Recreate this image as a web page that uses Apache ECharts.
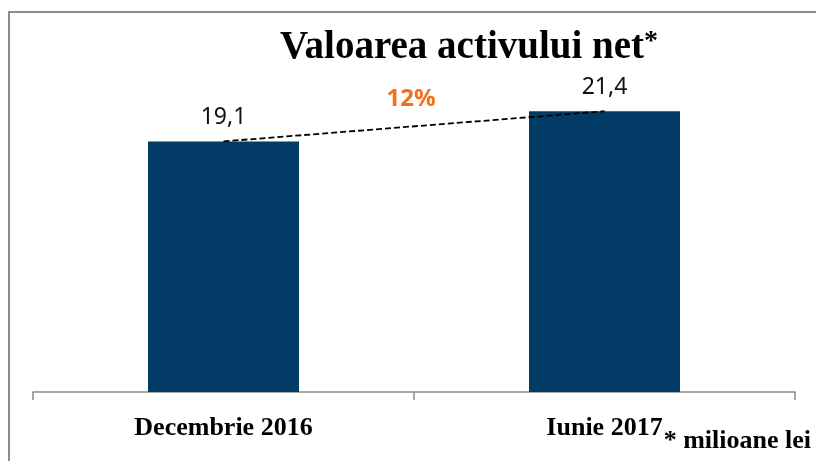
<!DOCTYPE html>
<html>
<head>
<meta charset="utf-8">
<script src="https://cdn.jsdelivr.net/npm/echarts@6/dist/echarts.min.js"></script>
<style>
  html, body { margin: 0; padding: 0; background: #fff; }
  #chart { width: 816px; height: 461px; }
</style>
</head>
<body>
<div id="chart"></div>
<script>
// data
var categories = ['Decembrie 2016', 'Iunie 2017'];
var netAssets = [19.1, 21.4];
var growthText = '12%';
var titleText = 'Valoarea activului net';
var unitNote = '* milioane lei';

var myChart = echarts.init(document.getElementById('chart'));

option = {
    animation: false,
    backgroundColor: '#ffffff',
    title: {
        text: '{a|' + titleText + '}{b|*}',
        left: 275,
        top: 23,
        textStyle: {
            rich: {
                a: { fontFamily: 'Liberation Serif', fontWeight: 'bold', fontSize: 39, color: '#000' },
                b: { fontFamily: 'Liberation Serif', fontWeight: 'bold', fontSize: 28, color: '#000', verticalAlign: 'top' }
            }
        }
    },
    grid: { left: 33, right: 21, top: 64, bottom: 69 },
    xAxis: [{
        type: 'category',
        data: categories,
        axisLine: { lineStyle: { color: '#8a8a8a', width: 1.5 } },
        axisTick: { show: true, length: 8, lineStyle: { color: '#8a8a8a', width: 1.5 } },
        axisLabel: {
            margin: 23,
            fontFamily: 'Liberation Serif',
            fontWeight: 'bold',
            fontSize: 26,
            color: '#000'
        }
    }],
    yAxis: [{ type: 'value', min: 0, max: 25, show: false }],
    series: [
        {
            name: 'activ net',
            type: 'bar',
            barWidth: 151,
            itemStyle: { color: '#023b66' },
            label: {
                show: true,
                position: 'top',
                distance: 12,
                fontFamily: 'Noto Sans',
                fontSize: 23,
                color: '#111',
                formatter: function (p) { return String(p.value).replace('.', ','); }
            },
            data: netAssets
        },
        {
            name: 'trend',
            type: 'line',
            symbol: 'none',
            z: 5,
            lineStyle: { color: '#000', width: 1.8, type: [6, 3] },
            data: netAssets
        }
    ],
    graphic: [
        {
            type: 'rect',
            shape: { x: 9, y: 12, width: 1000, height: 600 },
            style: { fill: 'none', stroke: '#8c8c8c', lineWidth: 2 },
            z: -1
        },
        {
            type: 'text',
            x: 411, y: 99,
            style: {
                text: growthText,
                fill: '#f46f16',
                font: 'bold 24px "Noto Sans"',
                textAlign: 'center',
                textVerticalAlign: 'middle'
            }
        },
        {
            type: 'text',
            x: 811, y: 441,
            style: {
                text: unitNote,
                fill: '#000',
                font: 'bold 26px "Liberation Serif"',
                textAlign: 'right',
                textVerticalAlign: 'middle'
            }
        }
    ]
};
myChart.setOption(option, true);
</script>
</body>
</html>
